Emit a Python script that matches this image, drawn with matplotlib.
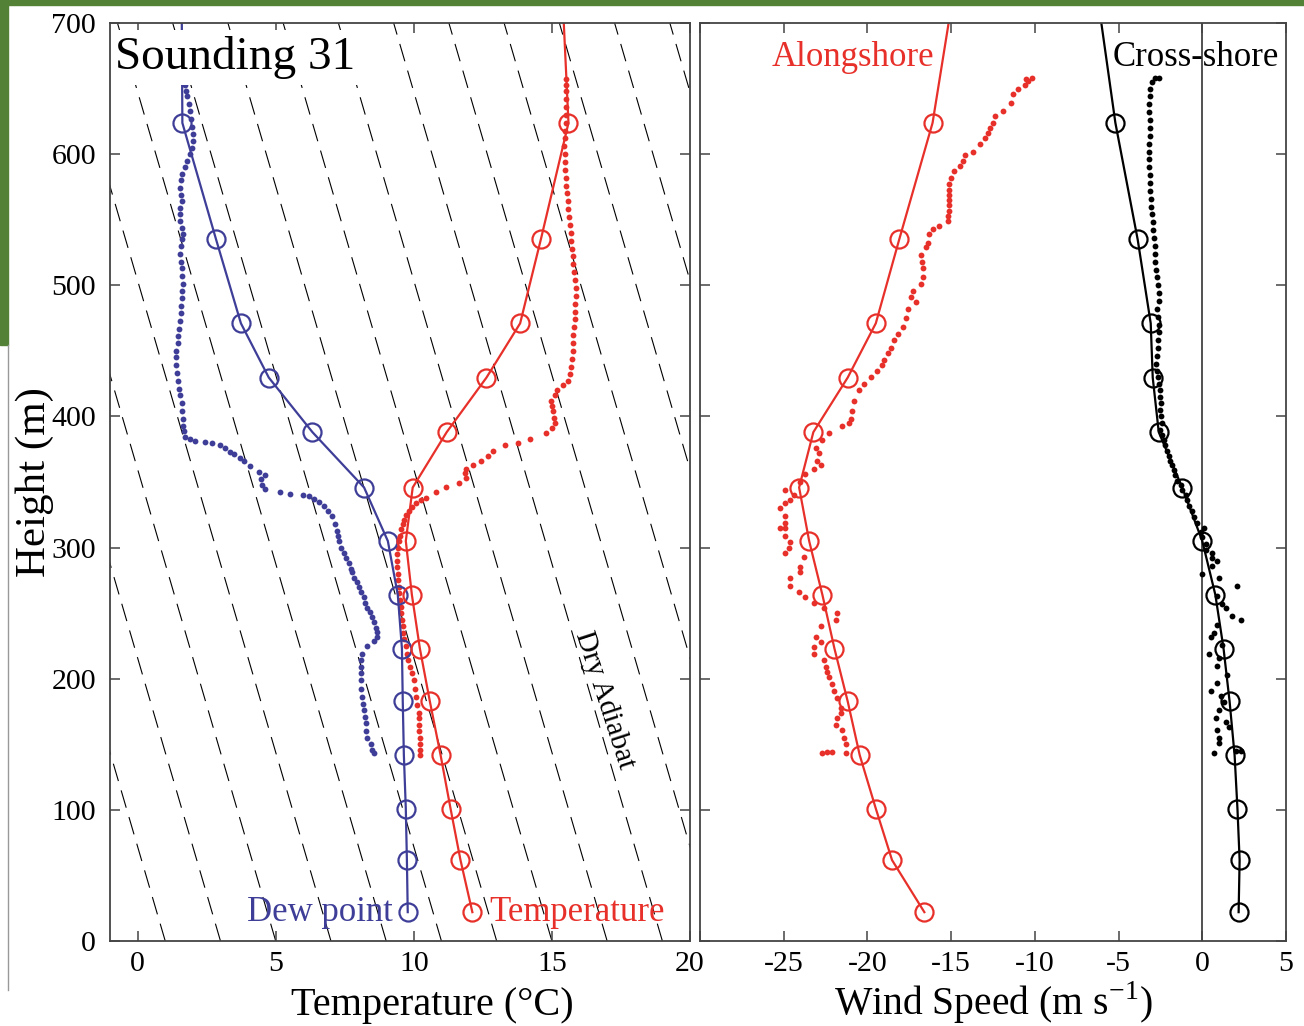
import numpy as np
import matplotlib
matplotlib.use("Agg")
import matplotlib.pyplot as plt
from matplotlib.patches import Rectangle
from matplotlib.lines import Line2D

plt.rcParams['font.family'] = ['Liberation Serif', 'DejaVu Serif']
plt.rcParams['mathtext.fontset'] = 'custom'
plt.rcParams['mathtext.rm'] = 'Liberation Serif'
plt.rcParams['lines.scale_dashes'] = False

RED = '#e8302a'
BLUE = '#3e3e98'

# ---- sounding levels (circles) ----
lvl_h = [22, 61.7, 101, 141.7, 182.8, 223, 264, 305, 345.8, 388, 429.6, 471, 535, 623.8, 700]
dew_t = [9.78, 9.75, 9.71, 9.64, 9.6, 9.57, 9.42, 9.06, 8.2, 6.33, 4.75, 3.74, 2.84, 1.62, 1.6]
temp_t = [12.12, 11.69, 11.33, 10.97, 10.58, 10.22, 9.93, 9.71, 9.96, 11.19, 12.63, 13.85, 14.6, 15.6, 15.43]
along_v = [-16.6, -18.53, -19.5, -20.46, -21.18, -21.97, -22.69, -23.48, -24.08, -23.23, -21.18, -19.5, -18.1, -16.11, -15.15]
cross_v = [2.17, 2.23, 2.1, 1.93, 1.63, 1.27, 0.78, 0.0, -1.2, -2.6, -2.96, -3.08, -3.86, -5.19, -6.03]

# ---- raw dew point (dots) ----
dew_dot_h = [143, 146, 150, 155, 160, 166, 171, 176, 181, 186, 192, 199, 204, 209, 214, 219, 225, 229,
             232, 236, 239, 243, 247, 251, 254, 258, 262, 266, 270, 274, 277, 281, 284, 288, 292, 296,
             300, 305, 309, 313, 318, 324, 328, 332, 335, 337, 339, 340, 340.5, 342, 345, 348, 352, 355,
             358, 362, 366, 368, 371, 373, 376, 378, 380, 380.5, 381.5, 383, 384, 389, 393, 398, 404,
             410, 416, 421, 427, 433, 439, 445, 450, 456, 461, 467, 473, 479, 484, 490, 496, 501, 507,
             513, 518, 524, 530, 535, 539, 544, 549, 554, 559, 564, 569, 574, 580, 585, 590, 595, 600,
             605, 610, 615, 621, 627, 633, 638, 644, 648, 653, 657]
dew_dot_t = [8.56, 8.5, 8.45, 8.3, 8.27, 8.27, 8.22, 8.2, 8.16, 8.13, 8.1, 8.09, 8.08, 8.09, 8.1, 8.13,
             8.31, 8.55, 8.67, 8.66, 8.63, 8.55, 8.49, 8.4, 8.31, 8.25, 8.2, 8.1, 8.02, 7.93, 7.84, 7.78,
             7.73, 7.64, 7.55, 7.46, 7.37, 7.3, 7.27, 7.23, 7.15, 7.05, 6.9, 6.76, 6.58, 6.4, 6.2, 5.97,
             5.5, 5.14, 4.6, 4.5, 4.45, 4.6, 4.4, 4.06, 3.85, 3.7, 3.5, 3.35, 3.15, 3.0, 2.7, 2.45, 2.09,
             1.9, 1.73, 1.68, 1.65, 1.63, 1.62, 1.6, 1.55, 1.5, 1.47, 1.43, 1.4, 1.4, 1.4, 1.45, 1.47,
             1.5, 1.55, 1.57, 1.58, 1.6, 1.62, 1.65, 1.62, 1.62, 1.58, 1.55, 1.58, 1.6, 1.65, 1.6, 1.55,
             1.55, 1.52, 1.6, 1.56, 1.55, 1.58, 1.62, 1.7, 1.8, 1.9, 1.98, 2.0, 2.0, 1.98, 1.95, 1.9,
             1.85, 1.8, 1.75, 1.73, 1.72]

# ---- raw temperature (dots) ----
temp_dot_h = [142, 146, 150, 155, 160, 165, 170, 174, 180, 186, 192, 199, 204, 209, 214, 219, 225, 230,
              235, 240, 245, 250, 255, 260, 265, 270, 275, 280, 285, 290, 295, 300, 305, 309, 314, 318,
              321, 325, 328, 331, 334, 336, 338, 342, 346, 349, 353, 357, 360, 363, 366, 370, 374, 378,
              380, 383, 387, 391, 395, 399, 404, 408, 412, 416, 420, 424, 427, 432, 438, 444, 450, 456,
              462, 468, 474, 480, 486, 492, 498, 504, 510, 516, 522, 528, 534, 540, 546, 552, 558, 564,
              570, 576, 582, 588, 594, 600, 606, 612, 618, 624, 630, 636, 642, 648, 653, 657]
temp_dot_t = [10.24, 10.23, 10.22, 10.21, 10.2, 10.19, 10.18, 10.17, 10.12, 10.08, 10.04, 10.0, 9.92,
              9.86, 9.8, 9.75, 9.7, 9.66, 9.62, 9.6, 9.57, 9.55, 9.52, 9.5, 9.48, 9.46, 9.44, 9.42, 9.4,
              9.39, 9.39, 9.42, 9.45, 9.5, 9.55, 9.6, 9.64, 9.72, 9.82, 9.95, 10.07, 10.25, 10.43, 10.8,
              11.15, 11.62, 11.9, 11.85, 11.9, 12.15, 12.45, 12.7, 12.88, 13.3, 13.78, 14.2, 14.78, 15.0,
              15.1, 15.08, 15.04, 15.0, 14.97, 15.1, 15.2, 15.4, 15.58, 15.65, 15.7, 15.72, 15.75, 15.76,
              15.78, 15.8, 15.82, 15.84, 15.85, 15.86, 15.86, 15.84, 15.8, 15.78, 15.75, 15.72, 15.7,
              15.68, 15.65, 15.62, 15.6, 15.57, 15.55, 15.52, 15.5, 15.48, 15.47, 15.46, 15.45, 15.46,
              15.48, 15.5, 15.5, 15.52, 15.5, 15.5, 15.52, 15.5]

# ---- raw alongshore wind (dots) ----
along_dot_h = [143, 144, 144, 143, 150, 155, 161, 165, 170, 174, 178, 185, 191, 196, 201, 205, 209, 214,
               219, 224, 228, 232, 240, 245, 250, 254, 258, 262, 266, 271, 277, 281, 285, 293, 296, 300,
               304, 309, 315, 315, 319, 324, 330, 334, 336, 340, 344, 350, 356, 360, 363, 366, 372, 376,
               382, 387, 393, 395, 398, 404, 412, 420, 425, 430, 435, 439, 443, 448, 452, 458, 463, 468,
               475, 482, 487, 491, 496, 501, 506, 513, 518, 523, 529, 532, 539, 543, 545, 549, 553, 557,
               561, 565, 569, 573, 577, 582, 587, 591, 595, 599, 602, 608, 612, 616, 620, 624, 629, 633,
               639, 646, 650, 653, 656, 658, 657]
along_dot_v = [-22.7, -22.4, -22.1, -21.3, -21.3, -21.4, -21.5, -21.9, -21.8, -21.6, -21.6, -21.8, -22.0,
               -22.1, -22.3, -22.4, -22.5, -22.6, -23.2, -23.2, -22.8, -23.1, -22.8, -21.9, -21.8, -22.6,
               -23.2, -23.7, -24.1, -24.6, -24.6, -24.0, -24.0, -23.8, -24.9, -24.7, -24.6, -24.9, -24.9,
               -25.2, -24.9, -24.9, -25.2, -24.9, -24.6, -24.4, -24.9, -24.0, -23.7, -23.2, -22.8, -23.0,
               -22.9, -23.1, -22.7, -22.3, -21.5, -21.1, -21.0, -20.9, -20.8, -20.5, -20.2, -19.8, -19.4,
               -19.1, -19.0, -18.8, -18.6, -18.4, -18.2, -17.9, -17.7, -17.6, -17.1, -17.4, -17.3, -16.8,
               -16.7, -16.7, -16.75, -16.8, -16.5, -16.4, -16.3, -16.1, -15.7, -15.2, -15.2, -15.15,
               -15.15, -15.1, -15.1, -15.1, -15.1, -15.0, -14.8, -14.5, -14.3, -14.2, -13.7, -13.3, -13.0,
               -12.8, -12.7, -12.5, -12.4, -11.9, -11.4, -11.3, -11.0, -10.6, -10.4, -10.2, -10.5]

# ---- raw cross-shore wind (dots) ----
cross_dot_h = [143, 145, 145, 151, 155, 161, 163, 167, 170, 176, 182, 187, 191, 197, 203, 210, 216, 219,
               226, 232, 235, 241, 245, 248, 254, 257, 263, 271, 277, 280, 286, 290, 292, 296, 298, 303,
               308, 312, 315, 319, 323, 328, 332, 336, 340, 344, 348, 351, 355, 359, 363, 366, 370, 374,
               378, 382, 386, 390, 395, 400, 405, 410, 415, 420, 425, 430, 435, 440, 446, 452, 458, 464,
               470, 476, 482, 488, 494, 500, 506, 512, 518, 524, 530, 536, 542, 548, 554, 560, 566, 572,
               578, 584, 590, 596, 602, 608, 614, 620, 626, 632, 638, 644, 650, 655, 658, 658]
cross_dot_v = [0.72, 2.0, 2.3, 1.0, 1.0, 0.9, 1.6, 1.4, 0.8, 1.0, 1.3, 1.1, 0.5, 0.9, 1.5, 0.9, 1.0, 0.4,
               1.2, 0.5, 0.7, 0.9, 2.3, 1.8, 1.4, 1.2, 0.9, 2.1, 1.0, 0.0, 0.6, 0.9, 0.6, 0.6, 0.2, 0.2,
               0.0, -0.1, 0.1, -0.3, -0.5, -0.6, -0.8, -0.9, -1.0, -1.2, -1.3, -1.5, -1.6, -1.7, -1.8,
               -1.9, -2.0, -2.1, -2.2, -2.3, -2.4, -2.5, -2.4, -2.45, -2.5, -2.45, -2.5, -2.55, -2.6,
               -2.65, -2.7, -2.75, -2.7, -2.65, -2.65, -2.6, -2.6, -2.65, -2.7, -2.6, -2.6, -2.65, -2.7,
               -2.75, -2.8, -2.85, -2.85, -2.9, -2.95, -2.95, -3.0, -3.05, -3.05, -3.1, -3.1, -3.15,
               -3.2, -3.2, -3.2, -3.2, -3.15, -3.1, -3.15, -3.2, -3.2, -3.15, -3.1, -3.0, -2.8, -2.6]

# dry adiabats: surface temperatures and lapse rate (degC per m)
adiabat_t0 = [1, 3, 5, 7, 9, 11, 13, 15, 17, 19, 21, 23, 25, 27, 29]
adiabat_lapse = 0.0139

fig = plt.figure(figsize=(13.04, 10.26), dpi=100)
W, H = 1304, 1026
ax1 = fig.add_axes([110 / W, (H - 941) / H, 580 / W, 918 / H])
ax2 = fig.add_axes([700 / W, (H - 941) / H, 586 / W, 918 / H])

def style(ax):
    for sp in ax.spines.values():
        sp.set_color('#444444')
        sp.set_linewidth(1.3)
        sp.set_zorder(7)
    ax.tick_params(direction='in', length=7, width=1.1, color='#444444',
                   top=True, right=True, labelsize=21.5)
    ax.tick_params(axis='x', pad=7)
    ax.tick_params(axis='y', pad=10)

# ---- left panel ----
hh = np.array([0, 720])
for t0 in adiabat_t0:
    ax1.plot(t0 - adiabat_lapse * hh, hh, color='black', lw=0.8, dashes=(13, 7), zorder=1)

ax1.plot(dew_dot_t, dew_dot_h, 'o', color=BLUE, ms=4.2, mew=0, zorder=3)
ax1.plot(temp_dot_t, temp_dot_h, 'o', color=RED, ms=4.2, mew=0, zorder=3)
n = len(lvl_h) - 1
ax1.plot(dew_t, lvl_h, '-o', color=BLUE, lw=1.6, ms=13, mfc='none', mew=1.6,
         markevery=list(range(n)), zorder=4)
ax1.plot(temp_t, lvl_h, '-o', color=RED, lw=1.6, ms=13, mfc='none', mew=1.6,
         markevery=list(range(n)), zorder=4)

ax1.set_xlim(-1, 20)
ax1.set_ylim(0, 700)
ax1.set_xticks([0, 5, 10, 15, 20])
ax1.set_yticks(range(0, 701, 100))
style(ax1)
ax1.set_xlabel('Temperature (°C)', fontsize=29, va='center')
ax1.xaxis.set_label_coords(0.555, -0.0705)
ax1.set_ylabel('Height (m)', fontsize=31)
ax1.yaxis.set_label_coords(-0.097, 0.5)

ax1.text(0.008, 0.986, 'Sounding 31', transform=ax1.transAxes, ha='left', va='top',
         fontsize=34, zorder=6,
         bbox=dict(facecolor='white', edgecolor='none', pad=4))
ax1.text(9.25, 22, 'Dew point', color=BLUE, fontsize=25, ha='right', va='center', zorder=5)
ax1.text(12.75, 22, 'Temperature', color=RED, fontsize=25, ha='left', va='center', zorder=5)
ax1.text(16.9, 184, 'Dry Adiabat', fontsize=21, rotation=-72, ha='center', va='center',
         rotation_mode='anchor', zorder=5)

# ---- right panel ----
ax2.axvline(0, color='#333333', lw=1.2, zorder=1)
ax2.plot(along_dot_v, along_dot_h, 'o', color=RED, ms=4.2, mew=0, zorder=3)
ax2.plot(cross_dot_v, cross_dot_h, 'o', color='black', ms=4.2, mew=0, zorder=3)
ax2.plot(along_v, lvl_h, '-o', color=RED, lw=1.6, ms=13, mfc='none', mew=1.6,
         markevery=list(range(n)), zorder=4)
ax2.plot(cross_v, lvl_h, '-o', color='black', lw=1.6, ms=13, mfc='none', mew=1.6,
         markevery=list(range(n)), zorder=4)

ax2.set_xlim(-30, 5)
ax2.set_ylim(0, 700)
ax2.set_xticks([-30, -25, -20, -15, -10, -5, 0, 5])
ax2.set_xticklabels(['', '-25', '-20', '-15', '-10', '-5', '0', '5'])
ax2.set_yticks(range(0, 701, 100))
ax2.set_yticklabels([])
style(ax2)
ax2.set_xlabel('Wind Speed (m s$^{\\mathrm{-1}}$)', fontsize=28.5, va='center')
ax2.xaxis.set_label_coords(0.5, -0.067)
ax2.text(-16.0, 674, 'Alongshore', color=RED, fontsize=25, ha='right', va='center')
ax2.text(-5.35, 674, 'Cross-shore', color='black', fontsize=25, ha='left', va='center')

# screenshot frame remnants
fig.patches.append(Rectangle((0, 1 - 5 / H), 1, 5 / H, transform=fig.transFigure,
                             color='#538135', zorder=0))
fig.patches.append(Rectangle((0, 1 - 345 / H), 8 / W, 345 / H, transform=fig.transFigure,
                             color='#538135', zorder=0))
fig.lines.append(Line2D([8 / W, 8 / W], [1 - 990 / H, 1 - 345 / H], transform=fig.transFigure,
                        color='#999999', lw=1))

fig.savefig('out.png', dpi=100)
